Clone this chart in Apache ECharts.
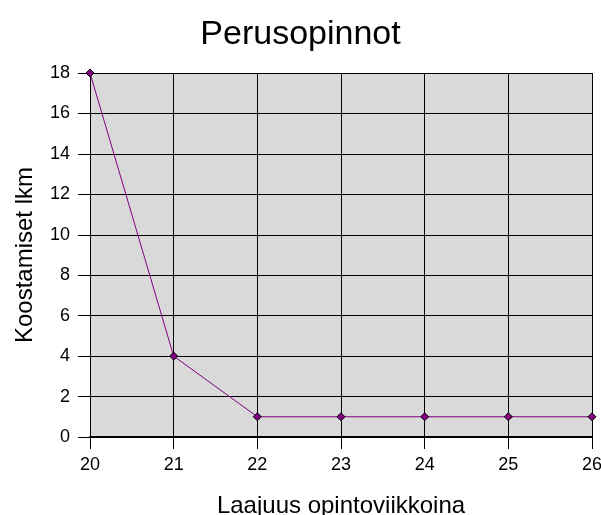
<!DOCTYPE html>
<html>
<head>
<meta charset="utf-8">
<script src="https://cdn.jsdelivr.net/npm/echarts@6/dist/echarts.min.js"></script>
<style>
html, body { margin: 0; padding: 0; background: #fff; }
#chart { width: 601px; height: 515px; }
</style>
</head>
<body>
<div id="chart"></div>
<script>
// laajuus (opintoviikot) ja koostamisten lukumäärä
var laajuus = [20, 21, 22, 23, 24, 25, 26];
var koostamiset = [18, 4, 1, 1, 1, 1, 1];

var pisteet = [];
for (var i = 0; i < laajuus.length; i++) {
    pisteet.push([laajuus[i], koostamiset[i]]);
}

var myChart = echarts.init(document.getElementById('chart'));
var fontti = 'Liberation Sans, Arial, sans-serif';

var option = {
    animation: false,
    title: {
        text: 'Perusopinnot',
        left: 'center',
        top: 13,
        textStyle: { fontFamily: fontti, fontSize: 34, fontWeight: 'normal', color: '#000' }
    },
    grid: {
        left: 90, right: 9, top: 73, bottom: 78,
        outerBoundsMode: 'none',
        containLabel: false,
        show: true,
        backgroundColor: '#d9d9d9',
        borderWidth: 0
    },
    xAxis: {
        type: 'value',
        min: 20, max: 26, interval: 1,
        name: 'Laajuus opintoviikkoina',
        nameLocation: 'middle',
        nameGap: 57,
        nameTextStyle: { fontFamily: fontti, fontSize: 24, color: '#000' },
        axisLine: { lineStyle: { color: '#000', width: 2 } },
        axisTick: { show: true, length: 12, lineStyle: { color: '#000', width: 1 } },
        axisLabel: { fontFamily: fontti, fontSize: 18, color: '#000', margin: 19 },
        splitLine: { show: true, lineStyle: { color: '#000', width: 1 } }
    },
    yAxis: {
        type: 'value',
        min: 0, max: 18, interval: 2,
        name: 'Koostamiset lkm',
        nameLocation: 'middle',
        nameGap: 53,
        nameTextStyle: { fontFamily: fontti, fontSize: 24, color: '#000' },
        axisLine: { show: true, lineStyle: { color: '#000', width: 1 } },
        axisTick: { show: true, length: 12, lineStyle: { color: '#000', width: 1 } },
        axisLabel: { fontFamily: fontti, fontSize: 18, color: '#000', margin: 20 },
        splitLine: { show: true, lineStyle: { color: '#000', width: 1 } }
    },
    series: [{
        type: 'line',
        data: pisteet,
        symbol: 'diamond',
        symbolSize: 8,
        lineStyle: { color: '#800080', width: 1 },
        itemStyle: { color: '#800080', borderColor: '#000', borderWidth: 1 }
    }]
};

myChart.setOption(option);
</script>
</body>
</html>
